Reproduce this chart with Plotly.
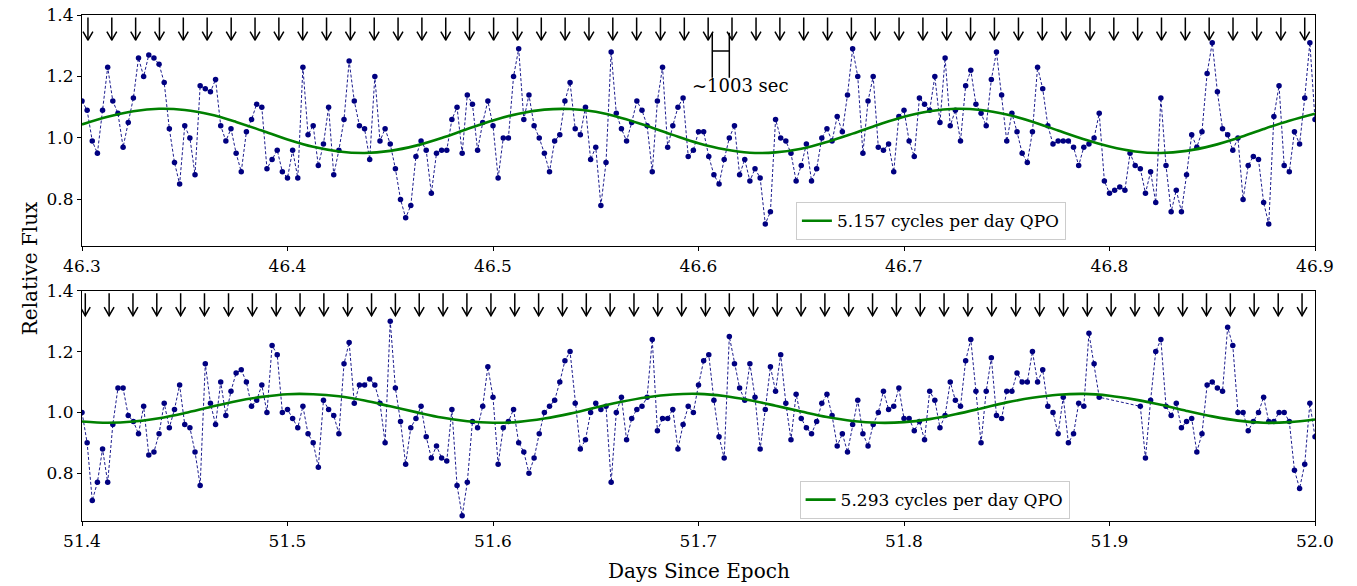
import plotly.graph_objects as go

# sampling of the (reduced) light curves, in days
t0_top = 46.3
t0_bot = 51.4
cadence = 0.0025

flux_top = [
    1.12, 1.09, 0.99, 0.95, 1.09, 1.23, 1.12, 1.08, 0.97, 1.05,
    1.13, 1.26, 1.20, 1.27, 1.26, 1.24, 1.18, 1.03, 0.92, 0.85,
    1.04, 1.00, 0.88, 1.17, 1.16, 1.15, 1.19, 1.04, 0.99, 1.03,
    0.95, 0.89, 1.02, 1.06, 1.11, 1.10, 0.90, 0.93, 0.96, 0.89,
    0.87, 0.96, 0.87, 1.23, 1.01, 1.04, 0.91, 0.98, 1.10,
    0.88, 0.96, 1.06, 1.25, 1.12, 1.04, 1.03, 0.93, 1.20, 0.99,
    1.03, 0.98, 0.90, 0.80, 0.74, 0.78, 0.94, 0.99, 0.96, 0.82,
    0.95, 0.96, 0.96, 1.06, 1.10, 0.95, 1.14, 1.11, 0.96, 1.05,
    1.12, 1.04, 0.87, 1.00, 1.00, 1.20, 1.29, 1.06, 1.14, 1.04,
    1.00, 0.95, 0.89, 0.99, 1.01, 1.12, 1.18, 1.03, 1.01,
    1.10, 0.93, 0.97, 0.78, 0.92, 1.28, 1.08, 1.03, 0.99, 1.05,
    1.12, 1.09, 1.04, 0.89, 1.12, 1.23, 0.97, 1.04, 1.10, 1.13,
    0.94, 0.96, 1.02, 1.02, 0.94, 0.88, 0.85, 0.93, 1.00, 1.04,
    0.88, 0.93, 0.86, 0.90, 0.87, 0.72, 0.76, 1.06, 1.00, 0.99,
    0.95, 0.86, 0.91, 0.98, 0.86, 0.90, 1.00, 1.03, 0.99,
    1.07, 1.02, 1.14, 1.29, 1.20, 0.95, 1.12, 1.20, 0.97, 0.96,
    0.98, 0.89, 1.07, 1.09, 0.99, 0.94, 1.13, 1.11, 1.09, 1.20,
    1.05, 1.26, 1.04, 1.09, 0.99, 1.17, 1.22, 1.11, 1.08, 1.04,
    1.19, 1.28, 1.14, 0.99, 1.08, 1.02, 0.95, 0.92, 1.02, 1.23,
    1.16, 1.04, 0.98, 0.99, 0.99, 0.99, 0.97, 0.91,
    0.97, 0.98, 1.00, 1.08, 0.86, 0.82, 0.83, 0.84, 0.83, 0.95,
    0.91, 0.90, 0.82, 0.89, 0.79, 1.13, 0.91, 0.76, 0.83, 0.76,
    0.88, 1.01, 0.97, 1.02, 1.21, 1.31, 1.15, 1.03, 1.01, 0.96,
    1.00, 0.80, 0.91, 0.94, 0.93, 0.79, 0.72, 1.07, 1.17, 0.91,
    0.89, 1.02, 0.98, 1.13, 1.31, 1.06,
]

flux_bot = [
    1.00, 0.90, 0.71, 0.77, 0.88, 0.77, 0.96, 1.08, 1.08, 0.99,
    0.97, 0.93, 1.02, 0.86, 0.87, 0.93, 1.03, 0.95, 1.01, 1.09,
    0.96, 0.95, 0.87, 0.76, 1.16, 1.03, 0.96, 1.10, 0.99, 1.07,
    1.13, 1.14, 1.10, 1.02, 1.04, 1.09, 1.00, 1.22, 1.19, 1.00,
    1.01, 0.98, 0.95, 1.02, 0.93, 0.90, 0.82, 1.04, 1.01,
    0.99, 0.93, 1.16, 1.23, 1.03, 1.09, 1.09, 1.11, 1.09, 1.03,
    0.90, 1.30, 1.08, 0.97, 0.83, 0.95, 0.98, 1.02, 0.92, 0.85,
    0.89, 0.85, 0.84, 1.01, 0.76, 0.66, 0.77, 0.97, 0.95, 1.02,
    1.15, 1.05, 0.83, 0.95, 0.97, 1.01, 0.90, 0.87, 0.80, 0.85,
    0.93, 1.00, 1.02, 1.04, 1.10, 1.17, 1.20, 1.03, 0.88,
    0.91, 1.00, 1.03, 1.01, 1.02, 0.77, 1.00, 1.05, 0.91, 0.98,
    1.01, 1.02, 1.05, 1.24, 0.94, 0.98, 0.98, 1.01, 0.88, 0.96,
    1.02, 1.00, 1.09, 1.17, 1.19, 1.04, 0.92, 0.85, 1.25, 1.16,
    1.08, 1.04, 1.16, 1.05, 0.88, 1.01, 1.15, 1.07, 1.19, 1.03,
    0.91, 1.06, 0.98, 0.95, 0.93, 0.97, 1.03, 1.06, 0.99,
    0.89, 0.93, 0.87, 0.96, 1.04, 0.93, 0.89, 0.96, 1.00, 1.07,
    1.01, 1.02, 1.08, 0.98, 0.98, 0.94, 0.97, 0.91, 1.07, 1.04,
    0.95, 0.99, 1.10, 1.04, 1.02, 1.17, 1.24, 1.07, 0.90, 1.07,
    1.18, 0.99, 0.98, 1.07, 1.07, 1.13, 1.10, 1.10, 1.20, 1.10,
    1.14, 1.02, 1.00, 0.93, 1.05, 0.90, 0.93, 1.03,
    1.02, 1.26, 1.16, 1.05, None, None, None, None, None, None,
    None, 1.02, 0.85, 1.04, 1.20, 1.24, 1.02, 0.99, 1.03, 0.95,
    0.97, 0.98, 0.87, 0.93, 1.09, 1.10, 1.08, 1.07, 1.28, 1.22,
    1.00, 1.00, 0.94, 0.97, 1.00, 1.05, 0.97, 0.97, 1.00, 1.00,
    0.97, 0.81, 0.75, 0.83, 1.03, 0.92,
]

# QPO model curves, every 0.0125 d
qpo_step = 0.0125
qpo_top = [
    1.044, 1.069, 1.087, 1.095, 1.091, 1.076, 1.052, 1.024, 0.995, 0.971,
    0.956, 0.951, 0.958, 0.975, 1.000, 1.029, 1.057, 1.079, 1.092, 1.094,
    1.085, 1.065, 1.039, 1.010, 0.983, 0.963, 0.952, 0.953, 0.965, 0.987,
    1.014, 1.043, 1.069, 1.087, 1.095, 1.091, 1.076, 1.053, 1.024, 0.996,
    0.972, 0.956, 0.951, 0.958, 0.975, 1.000, 1.029, 1.056, 1.079,
]
qpo_bot = [
    0.970, 0.966, 0.970, 0.981, 0.998, 1.018, 1.037, 1.051, 1.060, 1.060,
    1.053, 1.039, 1.020, 1.001, 0.983, 0.971, 0.966, 0.969, 0.980, 0.996,
    1.016, 1.035, 1.050, 1.059, 1.061, 1.054, 1.040, 1.022, 1.003, 0.985,
    0.972, 0.966, 0.968, 0.978, 0.994, 1.013, 1.033, 1.048, 1.058, 1.061,
    1.055, 1.042, 1.025, 1.005, 0.987, 0.973, 0.966, 0.968, 0.977,
]

# arrow marks (~1003 s spacing)
arrows_top = [
    46.3029, 46.3145, 46.3261, 46.3377, 46.3493, 46.3609, 46.3726, 46.3842,
    46.3958, 46.4074, 46.4190, 46.4306, 46.4422, 46.4538, 46.4654, 46.4770,
    46.4886, 46.5003, 46.5119, 46.5235, 46.5351, 46.5467, 46.5583, 46.5699,
    46.5815, 46.5931, 46.6047, 46.6163, 46.6280, 46.6396, 46.6512, 46.6628,
    46.6744, 46.6860, 46.6976, 46.7092, 46.7208, 46.7324, 46.7440, 46.7557,
    46.7673, 46.7789, 46.7905, 46.8021, 46.8137, 46.8253, 46.8369, 46.8485,
    46.8601, 46.8717, 46.8834, 46.8950,
]
arrows_bot = [
    51.4016, 51.4132, 51.4248, 51.4364, 51.4480, 51.4596, 51.4713, 51.4829,
    51.4945, 51.5061, 51.5177, 51.5293, 51.5409, 51.5525, 51.5641, 51.5757,
    51.5873, 51.5990, 51.6106, 51.6222, 51.6338, 51.6454, 51.6570, 51.6686,
    51.6802, 51.6918, 51.7034, 51.7150, 51.7267, 51.7383, 51.7499, 51.7615,
    51.7731, 51.7847, 51.7963, 51.8079, 51.8195, 51.8311, 51.8427, 51.8544,
    51.8660, 51.8776, 51.8892, 51.9008, 51.9124, 51.9240, 51.9356, 51.9472,
    51.9588, 51.9704, 51.9821, 51.9937,
]

t_top = [round(t0_top + cadence * i, 4) for i in range(len(flux_top))]
t_bot = [round(t0_bot + cadence * i, 4) for i in range(len(flux_bot))]
tq_top = [round(t0_top + qpo_step * i, 4) for i in range(len(qpo_top))]
tq_bot = [round(t0_bot + qpo_step * i, 4) for i in range(len(qpo_bot))]

FONT = "DejaVu Serif"


def arrow_path(times, y_tail, y_tip, half_w=0.0024, head_h=0.028):
    xs, ys = [], []
    for t in times:
        xs += [t, t, None, t - half_w, t, t + half_w, None]
        ys += [y_tail, y_tip, None, y_tip + head_h, y_tip, y_tip + head_h, None]
    return xs, ys


fig = go.Figure()

panels = [
    (t_top, flux_top, tq_top, qpo_top, arrows_top, "5.157 cycles per day QPO", "x", "y", "legend"),
    (t_bot, flux_bot, tq_bot, qpo_bot, arrows_bot, "5.293 cycles per day QPO", "x2", "y2", "legend2"),
]
for t, f, tq, q, arr, label, xa, ya, leg in panels:
    fig.add_trace(go.Scatter(
        x=t, y=f, mode="lines+markers", connectgaps=True,
        line=dict(color="navy", width=0.9, dash="3px,2px"),
        marker=dict(color="navy", size=5.5),
        showlegend=False, xaxis=xa, yaxis=ya,
    ))
    fig.add_trace(go.Scatter(
        x=tq, y=q, mode="lines", line=dict(color="green", width=2.6, shape="spline"),
        name=label, xaxis=xa, yaxis=ya, legend=leg,
    ))
    ax, ay = arrow_path(arr, 1.392, 1.318)
    fig.add_trace(go.Scatter(
        x=ax, y=ay, mode="lines", line=dict(color="black", width=1.5),
        showlegend=False, hoverinfo="skip", xaxis=xa, yaxis=ya,
    ))

# ~1003 sec bracket
br_left, br_right = 46.6067, 46.6150
for xb in (br_left, br_right):
    fig.add_shape(type="line", x0=xb, x1=xb, y0=1.196, y1=1.342, xref="x", yref="y",
                  line=dict(color="black", width=1.5))
fig.add_shape(type="line", x0=br_left, x1=br_right, y0=1.283, y1=1.283, xref="x", yref="y",
              line=dict(color="black", width=1.5))
fig.add_annotation(x=46.6202, y=1.172, xref="x", yref="y", text="~1003 sec", showarrow=False,
                   xanchor="center", yanchor="middle",
                   font=dict(family=FONT, size=18, color="black"))

axis_common = dict(
    showline=True, mirror=True, linecolor="black", linewidth=1.2,
    ticks="outside", ticklen=4, tickwidth=1.2, tickcolor="black",
    showgrid=False, zeroline=False, automargin=False, ticklabeloverflow="allow",
    tickfont=dict(family=FONT, size=17, color="black"),
)

# the page body adds an 8 px offset, margins compensate for it
fig.update_layout(
    width=1357, height=586,
    margin=dict(l=74, r=50, t=7, b=73, autoexpand=False),
    paper_bgcolor="white", plot_bgcolor="white",
    xaxis=dict(domain=[0, 1], anchor="y", range=[46.3, 46.9], dtick=0.1, tickformat=".1f", **axis_common),
    yaxis=dict(domain=[0.543, 1], anchor="x", range=[0.6476, 1.4], dtick=0.2, tickformat=".1f", **axis_common),
    xaxis2=dict(domain=[0, 1], anchor="y2", range=[51.4, 52.0], dtick=0.1, tickformat=".1f", **axis_common),
    yaxis2=dict(domain=[0, 0.455], anchor="x2", range=[0.643, 1.4], dtick=0.2, tickformat=".1f", **axis_common),
    legend=dict(x=0.579, y=0.63, xanchor="left", yanchor="top",
                bgcolor="rgba(255,255,255,0.8)", bordercolor="#cccccc", borderwidth=1,
                font=dict(family=FONT, size=17, color="black")),
    legend2=dict(x=0.582, y=0.079, xanchor="left", yanchor="top",
                 bgcolor="rgba(255,255,255,0.8)", bordercolor="#cccccc", borderwidth=1,
                 font=dict(family=FONT, size=17, color="black")),
    font=dict(family=FONT, color="black"),
)

fig.add_annotation(x=-0.042, y=0.5, xref="paper", yref="paper", text="Relative Flux",
                   textangle=-90, showarrow=False, xanchor="center", yanchor="middle",
                   font=dict(family=FONT, size=20, color="black"))
fig.add_annotation(x=0.5, y=-0.098, xref="paper", yref="paper", text="Days Since Epoch",
                   showarrow=False, xanchor="center", yanchor="middle",
                   font=dict(family=FONT, size=20, color="black"))

fig.write_html("out.html")
